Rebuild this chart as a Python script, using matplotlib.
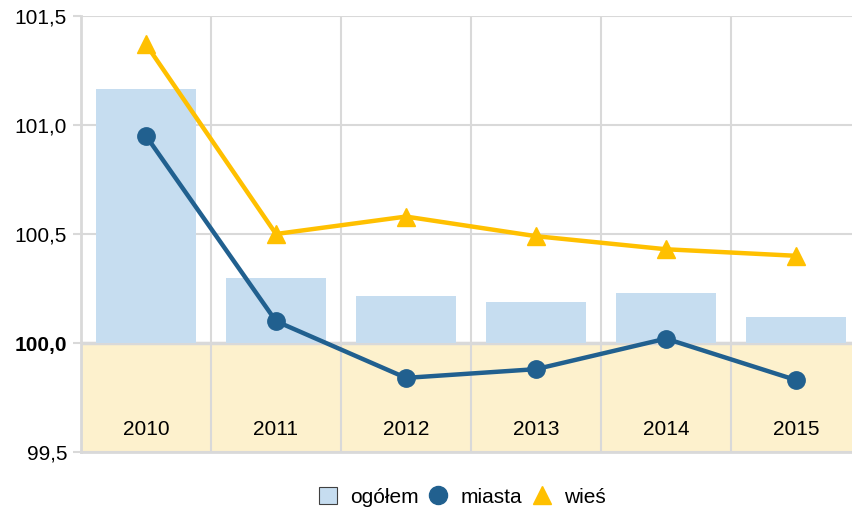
import matplotlib
matplotlib.use("Agg")
import matplotlib.pyplot as plt
from matplotlib.patches import Patch
from matplotlib.lines import Line2D
from matplotlib.ticker import FuncFormatter

plt.rcParams['font.family'] = ['Liberation Sans', 'DejaVu Sans']

# dane
lata = ['2010', '2011', '2012', '2013', '2014', '2015']
ogolem = [101.165, 100.30, 100.215, 100.19, 100.23, 100.12]
miasta = [100.95, 100.10, 99.84, 99.88, 100.02, 99.83]
wies = [101.37, 100.50, 100.58, 100.49, 100.43, 100.40]

c_bar = '#c6ddf0'
c_blue = '#21608f'
c_yel = '#ffc000'
c_grid = '#d9d9d9'
c_beige = '#fdf1cd'

fig = plt.figure(figsize=(8.52, 5.13), dpi=100)
ax = fig.add_axes([81/852, 61/513, 780/852, 436/513])

x = list(range(len(lata)))
base = 100.0

ax.axhspan(99.5, base, color=c_beige, zorder=0, lw=0)
ax.bar(x, [v - base for v in ogolem], bottom=base, width=0.77,
       color=c_bar, zorder=2)
ax.plot(x, miasta, '-o', color=c_blue, lw=3.2, ms=12.5, zorder=4)
ax.plot(x, wies, '-^', color=c_yel, lw=3.2, ms=12.5, zorder=3)

for xi, lab in zip(x, lata):
    ax.text(xi, 99.605, lab, ha='center', va='center', fontsize=15, zorder=5)

ax.set_xlim(-0.5, 5.5)
ax.set_ylim(99.5, 101.5)
ax.set_xticks([])
ax.set_xticks([i + 0.5 for i in x[:-1]], minor=True)
ax.set_yticks([99.5, 100.0, 100.5, 101.0, 101.5])
ax.yaxis.set_major_formatter(FuncFormatter(lambda v, p: f'{v:.1f}'.replace('.', ',')))
ax.tick_params(axis='y', length=6, width=1.5, color=c_grid, labelsize=15, pad=4)
ax.tick_params(axis='x', which='minor', length=0)
for lab in ax.get_yticklabels():
    if lab.get_text() == '100,0':
        lab.set_fontweight('bold')

ax.grid(axis='y', which='major', color=c_grid, lw=1.5, zorder=1)
ax.grid(axis='x', which='minor', color=c_grid, lw=1.5, zorder=1)
ax.set_axisbelow(True)
ax.axhline(base, color=c_grid, lw=2.5, zorder=1)

for s in ['top', 'right']:
    ax.spines[s].set_visible(False)
for s in ['left', 'bottom']:
    ax.spines[s].set_color(c_grid)
    ax.spines[s].set_linewidth(2)

handles = [Patch(facecolor=c_bar, edgecolor='#404040', lw=0.8),
           Line2D([], [], ls='', marker='o', color=c_blue, ms=13),
           Line2D([], [], ls='', marker='^', color=c_yel, ms=13)]
fig.legend(handles, ['ogółem', 'miasta', 'wieś'], loc='center',
           bbox_to_anchor=(462/852, 1 - 497/513), ncol=3, frameon=False,
           fontsize=15, handlelength=0.9, handleheight=0.9,
           handletextpad=0.6, columnspacing=0.5)

fig.savefig('out.png', dpi=100)
